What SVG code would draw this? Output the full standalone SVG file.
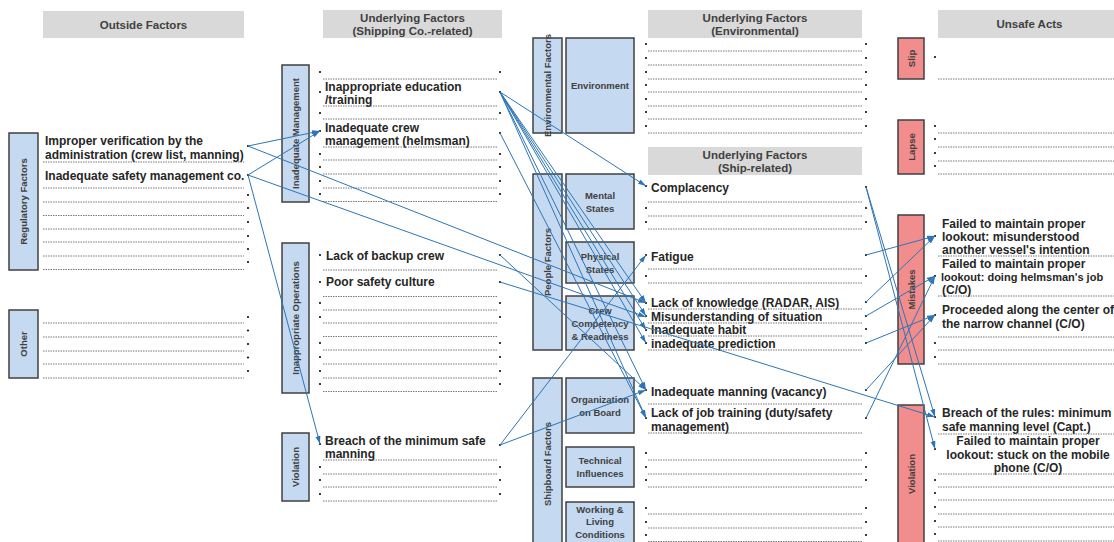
<svg xmlns="http://www.w3.org/2000/svg" width="1114" height="542" viewBox="0 0 1114 542">
<defs>
<marker id="arr" markerWidth="8" markerHeight="6" refX="8" refY="3" orient="auto" markerUnits="userSpaceOnUse">
<path d="M0,0.5 L8,3 L0,5.5 z" fill="#2E75B6"/>
</marker>
<style>
.hdr{fill:#D9D9D9}
.hdrt{font-family:"Liberation Sans",Arial,sans-serif;font-weight:bold;font-size:11.5px;fill:#404040;text-anchor:middle}
.bb{fill:#C5D9F1;stroke:#404040;stroke-width:1.5}
.rb{fill:#F28D8D;stroke:#404040;stroke-width:1.5}
.vt{font-family:"Liberation Sans",Arial,sans-serif;font-weight:bold;font-size:9.5px;fill:#404040;text-anchor:middle}
.bt{font-family:"Liberation Sans",Arial,sans-serif;font-weight:bold;font-size:9.5px;fill:#404040;text-anchor:middle}
.it{font-family:"Liberation Sans",Arial,sans-serif;font-weight:bold;font-size:12px;fill:#262626}
.dash{fill:none;stroke:#555;stroke-width:0.8;stroke-dasharray:1.5 1}
.dots{fill:none;stroke:#111;stroke-width:2.2;stroke-linecap:round}
.cn{fill:none;stroke:#2E75B6;stroke-width:1;marker-end:url(#arr)}
</style>
</defs>
<rect width="1114" height="542" fill="#FFFFFF"/>

<g id="headers">
<rect class="hdr" x="43" y="11" width="201" height="27"/>
<text class="hdrt" x="143.5" y="29">Outside Factors</text>
<rect class="hdr" x="323" y="10" width="179" height="28"/>
<text class="hdrt" x="412.5" y="22">Underlying Factors</text>
<text class="hdrt" x="412.5" y="35">(Shipping Co.-related)</text>
<rect class="hdr" x="648" y="10" width="214" height="28"/>
<text class="hdrt" x="755" y="22">Underlying Factors</text>
<text class="hdrt" x="755" y="35">(Environmental)</text>
<rect class="hdr" x="648" y="147" width="214" height="28"/>
<text class="hdrt" x="755" y="159">Underlying Factors</text>
<text class="hdrt" x="755" y="172">(Ship-related)</text>
<rect class="hdr" x="938" y="10" width="183" height="28"/>
<text class="hdrt" x="1029.5" y="28">Unsafe Acts</text>
</g>

<g id="regulatory">
<rect class="bb" x="9" y="133" width="29" height="137"/>
<text class="vt" transform="translate(27,201.5) rotate(-90)">Regulatory Factors</text>
<text class="it" x="45" y="144.5">Improper verification by the</text>
<text class="it" x="45" y="159">administration (crew list, manning)</text>
<text class="it" x="45" y="180">Inadequate safety management co.</text>
</g>
<g id="other">
<rect class="bb" x="9" y="310" width="29" height="68"/>
<text class="vt" transform="translate(27,344) rotate(-90)">Other</text>
</g>

<g id="inadequate-management">
<rect class="bb" x="282" y="65" width="27" height="137"/>
<text class="vt" transform="translate(299,133.5) rotate(-90)">Inadequate Management</text>
<text class="it" x="325" y="91">Inappropriate education</text>
<text class="it" x="325" y="104">/training</text>
<text class="it" x="325" y="132">Inadequate crew</text>
<text class="it" x="325" y="145">management (helmsman)</text>
</g>
<g id="inappropriate-operations">
<rect class="bb" x="282" y="243" width="27" height="150"/>
<text class="vt" transform="translate(299,318) rotate(-90)">Inappropriate Operations</text>
<text class="it" x="326" y="260">Lack of backup crew</text>
<text class="it" x="326" y="286">Poor safety culture</text>
</g>
<g id="violation-company">
<rect class="bb" x="282" y="433" width="27" height="68"/>
<text class="vt" transform="translate(299,467) rotate(-90)">Violation</text>
<text class="it" x="325" y="444.5">Breach of the minimum safe</text>
<text class="it" x="325" y="458">manning</text>
</g>

<g id="environmental-factors">
<rect class="bb" x="533" y="38" width="29" height="95"/>
<text class="vt" transform="translate(551,85.5) rotate(-90)">Environmental Factors</text>
<rect class="bb" x="566" y="38" width="68" height="95"/>
<text class="bt" x="600" y="89">Environment</text>
</g>

<g id="people-factors">
<rect class="bb" x="533" y="174" width="29" height="176"/>
<text class="vt" transform="translate(551,262) rotate(-90)">People Factors</text>
<rect class="bb" x="566" y="174" width="68" height="55"/>
<text class="bt" x="600" y="198.5">Mental</text>
<text class="bt" x="600" y="211.5">States</text>
<rect class="bb" x="566" y="242" width="68" height="41"/>
<text class="bt" x="600" y="260">Physical</text>
<text class="bt" x="600" y="273">States</text>
<rect class="bb" x="566" y="296" width="68" height="54"/>
<text class="bt" x="600" y="313.5">Crew</text>
<text class="bt" x="600" y="326.5">Competency</text>
<text class="bt" x="600" y="340">&amp; Readiness</text>
<text class="it" x="651" y="192">Complacency</text>
<text class="it" x="651" y="261">Fatigue</text>
<text class="it" x="651" y="307">Lack of knowledge (RADAR, AIS)</text>
<text class="it" x="651" y="321">Misunderstanding of situation</text>
<text class="it" x="651" y="334">Inadequate habit</text>
<text class="it" x="651" y="347.5">inadequate prediction</text>
</g>

<g id="shipboard-factors">
<rect class="bb" x="533" y="378" width="29" height="172"/>
<text class="vt" transform="translate(551,464) rotate(-90)">Shipboard Factors</text>
<rect class="bb" x="566" y="378" width="68" height="55"/>
<text class="bt" x="600" y="402.5">Organization</text>
<text class="bt" x="600" y="415.5">on Board</text>
<rect class="bb" x="566" y="447" width="68" height="40"/>
<text class="bt" x="600" y="463.5">Technical</text>
<text class="bt" x="600" y="476.5">Influences</text>
<rect class="bb" x="566" y="502" width="68" height="48"/>
<text class="bt" x="600" y="512.5">Working &amp;</text>
<text class="bt" x="600" y="525">Living</text>
<text class="bt" x="600" y="537.5">Conditions</text>
<text class="it" x="651" y="396">Inadequate manning (vacancy)</text>
<text class="it" x="651" y="417">Lack of job training (duty/safety</text>
<text class="it" x="651" y="431">management)</text>
</g>

<g id="slip">
<rect class="rb" x="898" y="38" width="26" height="41"/>
<text class="vt" transform="translate(915,58.5) rotate(-90)">Slip</text>
</g>
<g id="lapse">
<rect class="rb" x="898" y="120" width="26" height="54"/>
<text class="vt" transform="translate(915,147) rotate(-90)">Lapse</text>
</g>
<g id="mistakes">
<rect class="rb" x="898" y="215" width="26" height="149"/>
<text class="vt" transform="translate(915,289.5) rotate(-90)">Mistakes</text>
<text class="it" x="942" y="228">Failed to maintain proper</text>
<text class="it" x="942" y="241">lookout: misunderstood</text>
<text class="it" x="942" y="254">another vessel's intention</text>
<text class="it" x="942" y="267.5">Failed to maintain proper</text>
<text class="it" x="941" y="281" style="font-size:11px">lookout: doing helmsman's job</text>
<text class="it" x="942" y="294">(C/O)</text>
<text class="it" x="942" y="314">Proceeded along the center of</text>
<text class="it" x="942" y="327.5">the narrow channel (C/O)</text>
</g>
<g id="violation-acts">
<rect class="rb" x="898" y="405" width="26" height="145"/>
<text class="vt" transform="translate(915,474) rotate(-90)">Violation</text>
<text class="it" x="942" y="417">Breach of the rules: minimum</text>
<text class="it" x="942" y="431">safe manning level (Capt.)</text>
<text class="it" x="1028" y="445" text-anchor="middle">Failed to maintain proper</text>
<text class="it" x="1028" y="458.5" text-anchor="middle">lookout: stuck on the mobile</text>
<text class="it" x="1028" y="472" text-anchor="middle">phone (C/O)</text>
</g>

<g id="dashed-lines">
<path class="dash" d="M43,162H244M43,188H244M43,202H244M43,215.5H244M43,229H244M43,242H244M43,256H244M43,269.5H244M43,323H244M43,337H244M43,351H244M43,364H244M43,378H244"/>
<path class="dash" d="M323,79H497M323,106H497M323,119H497M323,147H497M323,160H497M323,174H497M323,188H497M323,201.5H497M323,270H497M323,296.5H497M323,310H497M323,323H497M323,336.5H497M323,350H497M323,364H497M323,378H497M323,391.5H497M323,460H497M323,474H497M323,487H497M323,501H497"/>
<path class="dash" d="M648,51H862M648,65H862M648,79H862M648,92H862M648,106H862M648,119H862M648,133H862M648,202H862M648,216H862M648,229H862M648,269H862M648,283H862M648,309H862M648,323H862M648,336H862M648,350H862M648,404H862M648,433H862M648,460H862M648,474H862M648,487H862M648,514H862M648,528H862M648,541.5H862"/>
<path class="dash" d="M938,79H1114M938,133H1114M938,147H1114M938,161H1114M938,174H1114M938,256H1114M938,296H1114M938,337H1114M938,350H1114M938,364H1114M938,434H1114M938,474H1114M938,487H1114M938,500H1114M938,514H1114M938,527H1114M938,541H1114"/>
</g>

<g id="bullets">
<path class="dots" d="M248,146h0M248,175h0M248,195h0M248,208h0M248,222h0M248,236h0M248,249h0M248,262h0M248,317h0M248,330.5h0M248,344h0M248,357.5h0M248,371h0"/>
<path class="dots" d="M320,72h0M320,92h0M320,113h0M320,131h0M320,154h0M320,167h0M320,181h0M320,194h0M320,255h0M320,282h0M320,303h0M320,317h0M320,343h0M320,357h0M320,371h0M320,384h0M320,444h0M320,467h0M320,480h0M320,494h0"/>
<path class="dots" d="M500,72h0M500,92h0M500,113h0M500,133h0M500,154h0M500,167h0M500,181h0M500,194h0M500,255h0M500,282h0M500,303h0M500,317h0M500,343h0M500,357h0M500,371h0M500,384h0M500,445h0M500,467h0M500,480h0M500,494h0"/>
<path class="dots" d="M646,44h0M646,58h0M646,72h0M646,85h0M646,99h0M646,112h0M646,126h0M646,186h0M646,208h0M646,222h0M646,255h0M646,276h0M646,303h0M646,316h0M646,330h0M646,343h0M646,390h0M646,418h0M646,453h0M646,467h0M646,480h0M646,508h0M646,522h0M646,535h0"/>
<path class="dots" d="M866,44h0M866,58h0M866,72h0M866,85h0M866,99h0M866,112h0M866,126h0M866,187h0M866,208h0M866,222h0M866,255h0M866,276h0M866,302h0M866,316h0M866,329h0M866,343h0M866,390h0M866,418h0M866,453h0M866,467h0M866,480h0M866,508h0M866,522h0M866,535h0"/>
<path class="dots" d="M935,57h0M935,126h0M935,139h0M935,153h0M935,166h0M935,236h0M935,276h0M935,315h0M935,343h0M935,357h0M935,417h0M935,449h0M935,480h0M935,493h0M935,507h0M935,521h0M935,534h0"/>
</g>

<g id="connectors">
<path class="cn" d="M248,146L320,131"/>
<path class="cn" d="M248,175L320,131"/>
<path class="cn" d="M248,146L646,303"/>
<path class="cn" d="M248,175L646,317"/>
<path class="cn" d="M248,175L320,444"/>
<path class="cn" d="M500,92L646,186"/>
<path class="cn" d="M500,92L646,303"/>
<path class="cn" d="M500,92L646,316"/>
<path class="cn" d="M500,92L646,330"/>
<path class="cn" d="M500,92L646,343"/>
<path class="cn" d="M500,92L646,390"/>
<path class="cn" d="M500,92L646,418"/>
<path class="cn" d="M500,133L646,418"/>
<path class="cn" d="M500,255L646,390"/>
<path class="cn" d="M500,282L935,417"/>
<path class="cn" d="M500,445L646,255"/>
<path class="cn" d="M500,445L646,390"/>
<path class="cn" d="M866,187L935,417"/>
<path class="cn" d="M866,187L935,449"/>
<path class="cn" d="M866,255L935,236"/>
<path class="cn" d="M866,302L935,236"/>
<path class="cn" d="M866,316L935,276"/>
<path class="cn" d="M866,343L935,315"/>
<path class="cn" d="M866,390L935,315"/>
<path class="cn" d="M866,418L935,276"/>
</g>
</svg>
